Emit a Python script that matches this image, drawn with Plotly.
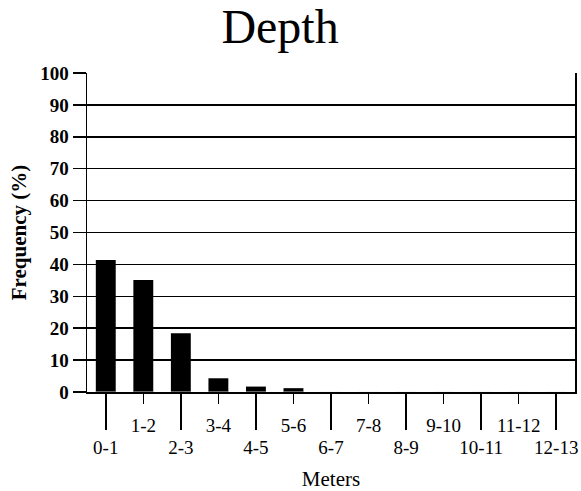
import plotly.graph_objects as go

categories = ["0-1", "1-2", "2-3", "3-4", "4-5", "5-6", "6-7", "7-8", "8-9", "9-10", "10-11", "11-12", "12-13"]
frequency = [41.4, 35.1, 18.4, 4.3, 1.7, 1.2, 0, 0, 0, 0, 0, 0, 0]
y_ticks = [0, 10, 20, 30, 40, 50, 60, 70, 80, 90, 100]

lower_labels = categories[0::2]
upper_labels = categories[1::2]

SERIF = "Liberation Serif, Times New Roman, serif"

fig = go.Figure()
fig.add_trace(go.Bar(x=categories, y=frequency, marker=dict(color="black", line=dict(width=0)),
                     xaxis="x", yaxis="y", hoverinfo="skip"))
fig.add_trace(go.Bar(x=categories, y=[0] * len(categories), marker=dict(color="rgba(0,0,0,0)"),
                     xaxis="x2", yaxis="y", hoverinfo="skip", showlegend=False))

xcommon = dict(type="category", categoryorder="array", categoryarray=categories,
               range=[-0.5, len(categories) - 0.5], showgrid=False, zeroline=False,
               automargin=False,
               ticks="outside", tickcolor="black", tickwidth=1.5,
               tickfont=dict(family=SERIF, size=19, color="black"))

fig.update_layout(
    width=581, height=491,
    margin=dict(l=87, r=6, t=73, b=99),
    paper_bgcolor="white", plot_bgcolor="white",
    showlegend=False, bargap=0.47,
    title=dict(text="Depth", x=0.482, xanchor="center", xref="container", y=0.947, yanchor="middle",
               font=dict(family=SERIF, size=48, color="black")),
    xaxis=dict(**xcommon, tickmode="array", tickvals=lower_labels, ticktext=lower_labels,
               ticklen=36, ticklabelstandoff=2,
               showline=True, linecolor="black", linewidth=1.5, mirror=False,
               title=dict(text="Meters", font=dict(family=SERIF, size=21, color="black"), standoff=15)),
    xaxis2=dict(**xcommon, overlaying="x", side="bottom", tickmode="array",
                tickvals=upper_labels, ticktext=upper_labels, ticklen=11, ticklabelstandoff=5,
                showline=False),
    yaxis=dict(range=[0, 100], tickmode="array", tickvals=y_ticks, automargin=False,
               showgrid=True, gridcolor="black", gridwidth=1.5, zeroline=False,
               showline=True, linecolor="black", linewidth=1.5, mirror=True,
               ticks="outside", ticklen=13, tickcolor="black", tickwidth=1.5,
               tickfont=dict(family=SERIF, size=19, color="black", weight="bold"),
               title=dict(text="Frequency (%)", font=dict(family=SERIF, size=21, color="black", weight="bold"),
                          standoff=8)),
)

fig.write_html("out.html", config={"displayModeBar": False, "staticPlot": True},
               post_script="document.body.style.margin='0';document.body.style.overflow='hidden';")
